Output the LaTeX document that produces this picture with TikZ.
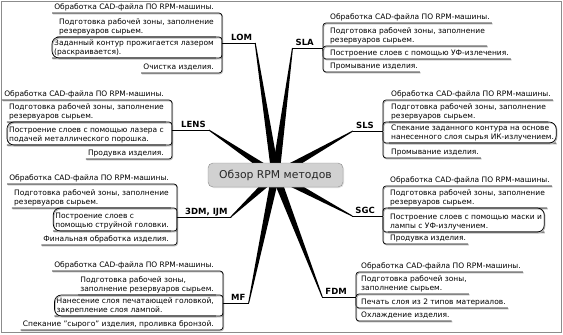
\documentclass[tikz,border=0pt]{standalone}
\usepackage{fontspec}
\setmainfont{DejaVu Sans}
\usepackage{tikz}
\usetikzlibrary{calc,shadows}
\tikzset{
  root/.style={draw=black!45, fill=black!18, rounded corners=5pt, minimum width=135pt,
               minimum height=24pt, font=\fontsize{10.8}{12}\selectfont, text=black!85,
               drop shadow={opacity=0.25, shadow xshift=1pt, shadow yshift=-1pt}},
  topic/.style={font=\fontsize{8.5}{10}\selectfont\bfseries, inner xsep=3pt, inner ysep=2.2pt, text depth=0pt},
  sub/.style={font=\fontsize{7.5}{9.4}\selectfont, align=left, inner xsep=2pt, inner ysep=1.2pt, text depth=1.8pt},
  uline/.style={line width=0.7pt, rounded corners=3pt,
                preaction={draw=black!30, line width=0.9pt, transform canvas={shift={(0.7pt,-0.9pt)}}}},
  farline/.style={uline, rounded corners=7pt},
  frame/.style={draw=black!45, line width=1pt},
}
\newcommand{\spoke}[2]{%
  \fill ($(#1)!0.5pt!90:(#2)$) -- ($(#1)!0.5pt!-90:(#2)$)
     -- ($(#2)!4pt!90:(#1)$) -- ($(#2)!4pt!-90:(#1)$) -- cycle;}

\begin{document}
\begin{tikzpicture}[x=1pt, y=-1pt]
  \useasboundingbox (0,0) rectangle (563,335);
  \draw[frame] (1,1) rectangle (561.5,332);
  \coordinate (hub) at (275.5,175);

  % LOM
  \coordinate (lom-b) at (222,43);
  \node[topic, anchor=south west] (lom) at (228,43) {LOM};
  \node[sub, anchor=south east] (lom1) at (216,13) {Обработка CAD-файла ПО RPM-машины.};
  \node[sub, anchor=south east] (lom2) at (216,37) {Подготовка рабочей зоны, заполнение\\резервуаров сырьем.};
  \node[sub, anchor=south east] (lom3) at (216,58) {Заданный контур прожигается лазером\\(раскраивается).};
  \node[sub, anchor=south east] (lom4) at (216,73) {Очистка изделия.};
  \draw[uline] (lom1.south west) -| (lom-b);
  \draw[uline] (lom2.south west) -| (lom-b);
  \draw[uline] (lom3.south west) -| (lom-b);
  \draw[uline] (lom4.south west) -| (lom-b);
  \draw[farline] (lom2.south east) -- (lom3.south west |- lom2.south) -- (lom3.south west) -- (lom3.south east);
  \draw[uline] (lom-b) -- (lom.south east);

  % SLA
  \coordinate (sla-b) at (323,48);
  \node[topic, anchor=south east] (sla) at (317,48) {SLA};
  \node[sub, anchor=south west] (sla1) at (328,23) {Обработка CAD-файла ПО RPM-машины.};
  \node[sub, anchor=south west] (sla2) at (328,46) {Подготовка рабочей зоны, заполнение\\резервуаров сырьем.};
  \node[sub, anchor=south west] (sla3) at (328,59) {Построение слоев с помощью УФ-излечения.};
  \node[sub, anchor=south west] (sla4) at (328,72) {Промывание изделия.};
  \draw[uline] (sla1.south east) -| (sla-b);
  \draw[uline] (sla2.south east) -| (sla-b);
  \draw[uline] (sla3.south east) -| (sla-b);
  \draw[uline] (sla4.south east) -| (sla-b);
  \draw[uline] (sla-b) -- (sla.south west);

  % LENS
  \coordinate (lens-b) at (172,130);
  \node[topic, anchor=south west] (lens) at (178,130) {LENS};
  \node[sub, anchor=south east] (lens1) at (166,100) {Обработка CAD-файла ПО RPM-машины.};
  \node[sub, anchor=south east] (lens2) at (166,122) {Подготовка рабочей зоны, заполнение\\резервуаров сырьем.};
  \node[sub, anchor=south east] (lens3) at (166,145) {Построение слоев с помощью лазера с\\подачей металлического порошка.};
  \node[sub, anchor=south east] (lens4) at (166,159) {Продувка изделия.};
  \draw[uline] (lens1.south west) -| (lens-b);
  \draw[uline] (lens2.south west) -| (lens-b);
  \draw[uline] (lens3.south west) -| (lens-b);
  \draw[uline] (lens4.south west) -| (lens-b);
  \draw[farline] (lens2.south east) -- (lens3.south west |- lens2.south) -- (lens3.south west) -- (lens3.south east);
  \draw[uline] (lens-b) -- (lens.south east);

  % SLS
  \coordinate (sls-b) at (383,131);
  \node[topic, anchor=south east] (sls) at (377,131) {SLS};
  \node[sub, anchor=south west] (sls1) at (389,100) {Обработка CAD-файла ПО RPM-машины.};
  \node[sub, anchor=south west] (sls2) at (389,122) {Подготовка рабочей зоны, заполнение\\резервуаров сырьем.};
  \node[sub, anchor=south west] (sls3) at (389,143) {Спекание заданного контура на основе\\нанесенного слоя сырья ИК-излучением.};
  \node[sub, anchor=south west] (sls4) at (389,158) {Промывание изделия.};
  \draw[uline] (sls1.south east) -| (sls-b);
  \draw[uline] (sls2.south east) -| (sls-b);
  \draw[uline] (sls3.south east) -| (sls-b);
  \draw[uline] (sls4.south east) -| (sls-b);
  \draw[farline] (sls2.south west) -- (sls3.south east |- sls2.south) -- (sls3.south east) -- (sls3.south west);
  \draw[uline] (sls-b) -- (sls.south west);

  % 3DM, IJM
  \coordinate (ijm-b) at (177,217);
  \node[topic, anchor=south west] (ijm) at (182,217) {3DM, IJM};
  \node[sub, anchor=south east] (ijm1) at (171,184) {Обработка CAD-файла ПО RPM-машины.};
  \node[sub, anchor=south east] (ijm2) at (171,208) {Подготовка рабочей зоны, заполнение\\резервуаров сырьем.};
  \node[sub, anchor=south east] (ijm3) at (171,231) {Построение слоев с\\помощью струйной головки.};
  \node[sub, anchor=south east] (ijm4) at (171,245) {Финальная обработка изделия.};
  \draw[uline] (ijm1.south west) -| (ijm-b);
  \draw[uline] (ijm2.south west) -| (ijm-b);
  \draw[uline] (ijm3.south west) -| (ijm-b);
  \draw[uline] (ijm4.south west) -| (ijm-b);
  \draw[farline] (ijm2.south east) -- (ijm3.south west |- ijm2.south) -- (ijm3.south west) -- (ijm3.south east);
  \draw[uline] (ijm-b) -- (ijm.south east);

  % SGC
  \coordinate (sgc-b) at (383,216);
  \node[topic, anchor=south east] (sgc) at (378,216) {SGC};
  \node[sub, anchor=south west] (sgc1) at (388,186) {Обработка CAD-файла ПО RPM-машины.};
  \node[sub, anchor=south west] (sgc2) at (388,208) {Подготовка рабочей зоны, заполнение\\резервуаров сырьем.};
  \node[sub, anchor=south west] (sgc3) at (388,232) {Построение слоев с помощью маски и\\лампы с УФ-излучением.};
  \node[sub, anchor=south west] (sgc4) at (388,244) {Продувка изделия.};
  \draw[uline] (sgc1.south east) -| (sgc-b);
  \draw[uline] (sgc2.south east) -| (sgc-b);
  \draw[uline] (sgc3.south east) -| (sgc-b);
  \draw[uline] (sgc4.south east) -| (sgc-b);
  \draw[farline] (sgc2.south west) -- (sgc3.south east |- sgc2.south) -- (sgc3.south east) -- (sgc3.south west);
  \draw[uline] (sgc-b) -- (sgc.south west);

  % MF
  \coordinate (mf-b) at (223,303);
  \node[topic, anchor=south west] (mf) at (228,303) {MF};
  \node[sub, anchor=south east] (mf1) at (216,271) {Обработка CAD-файла ПО RPM-машины.};
  \node[sub, anchor=south east] (mf2) at (216,295) {Подготовка рабочей зоны,\\заполнение резервуаров сырьем.};
  \node[sub, anchor=south east] (mf3) at (216,316) {Нанесение слоя печатающей головкой,\\закрепление слоя лампой.};
  \node[sub, anchor=south east] (mf4) at (216,330) {Спекание "сырого" изделия, проливка бронзой.};
  \draw[uline] (mf1.south west) -| (mf-b);
  \draw[uline] (mf2.south west) -| (mf-b);
  \draw[uline] (mf3.south west) -| (mf-b);
  \draw[uline] (mf4.south west) -| (mf-b);
  \draw[farline] (mf2.south east) -- (mf3.south west |- mf2.south) -- (mf3.south west) -- (mf3.south east);
  \draw[uline] (mf-b) -- (mf.south east);

  % FDM
  \coordinate (fdm-b) at (356,297);
  \node[topic, anchor=south east] (fdm) at (350,297) {FDM};
  \node[sub, anchor=south west] (fdm1) at (359,272) {Обработка CAD-файла ПО RPM-машины.};
  \node[sub, anchor=south west] (fdm2) at (359,294) {Подготовка рабочей зоны,\\заполнение сырьем.};
  \node[sub, anchor=south west] (fdm3) at (359,308) {Печать слоя из 2 типов материалов.};
  \node[sub, anchor=south west] (fdm4) at (359,321) {Охлаждение изделия.};
  \draw[uline] (fdm1.south east) -| (fdm-b);
  \draw[uline] (fdm2.south east) -| (fdm-b);
  \draw[uline] (fdm3.south east) -| (fdm-b);
  \draw[uline] (fdm4.south east) -| (fdm-b);
  \draw[uline] (fdm-b) -- (fdm.south west);

  \spoke{lom.south east}{hub}
  \spoke{sla.south west}{hub}
  \spoke{lens.south east}{hub}
  \spoke{sls.south west}{hub}
  \spoke{ijm.south east}{hub}
  \spoke{sgc.south west}{hub}
  \spoke{mf.south east}{hub}
  \spoke{fdm.south west}{hub}

  \node[root] (rpm) at (hub) {Обзор RPM методов};
\end{tikzpicture}
\end{document}
